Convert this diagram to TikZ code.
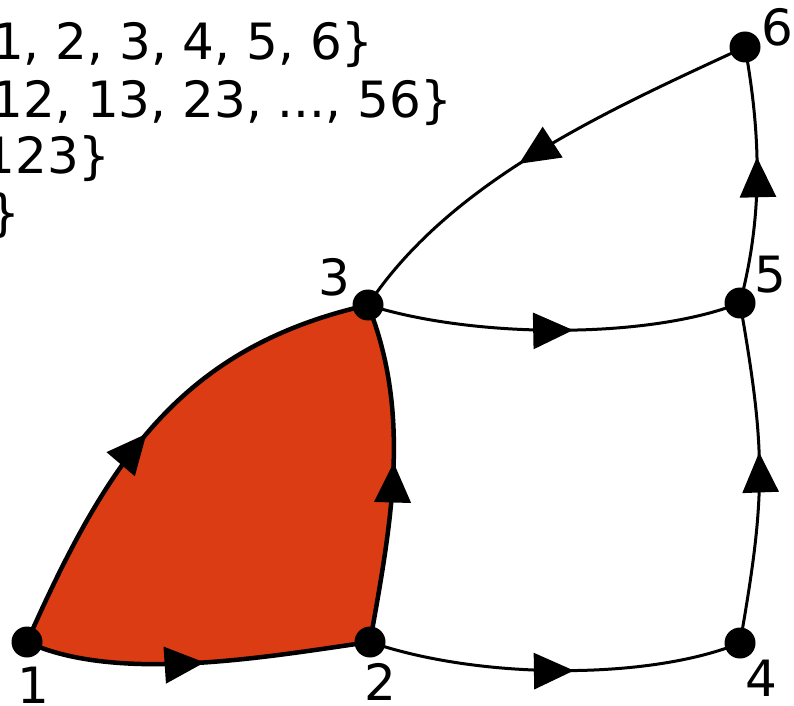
\documentclass[tikz,border=0pt]{standalone}
\usepackage{fontspec}
\setmainfont{DejaVu Sans}
\usetikzlibrary{arrows.meta,decorations.markings}
\definecolor{facered}{RGB}{220,60,20}
\tikzset{
  vertex/.style={circle,fill=black,inner sep=0pt,minimum size=31pt},
  lbl/.style={inner sep=0pt,font=\fontsize{50}{58}\selectfont},
  settext/.style={inner sep=0pt,anchor=base east,font=\fontsize{50}{58}\selectfont},
  edge/.style={line width=3pt},
  bedge/.style={line width=4.5pt},
  midarrow/.style={postaction={decorate},decoration={markings,
    mark=at position #1 with {\arrow{Triangle[length=40pt,width=36pt]}}}}
}
\begin{document}
\begin{tikzpicture}[x=1pt,y=1pt]
\useasboundingbox (0,0) rectangle (794,705);
\begin{scope}
\clip (0,0) rectangle (794,705);
\node[settext] (t1) at (374,645) {1, 2, 3, 4, 5, 6\}};
\node[settext] (t2) at (453,587) {12, 13, 23, ..., 56\}};
\node[settext] (t3) at (111,531) {123\}};
\node[settext] (t4) at (21,474) {\}};
\end{scope}
% vertices
\coordinate (p1) at (27,63);
\coordinate (p2) at (370,63);
\coordinate (p3) at (368,400);
\coordinate (p4) at (740,62);
\coordinate (p5) at (740,402);
\coordinate (p6) at (745,658);
% red face
\fill[facered] (p1) .. controls (118,21) and (271,49) .. (p2)
  .. controls (391,181) and (412,290) .. (p3)
  .. controls (182,358) and (108,246) .. (p1) -- cycle;
% edges
\draw[bedge,midarrow=0.52] (p1) .. controls (118,21) and (271,49) .. (p2);
\draw[bedge,midarrow=0.53] (p2) .. controls (391,181) and (412,290) .. (p3);
\draw[bedge,midarrow=0.48] (p1) .. controls (108,246) and (182,358) .. (p3);
\draw[edge,midarrow=0.55] (p2) .. controls (480,25) and (650,25) .. (p4);
\draw[edge,midarrow=0.55] (p3) .. controls (475,366) and (650,366) .. (p5);
\draw[edge,midarrow=0.56] (p4) .. controls (766,210) and (766,254) .. (p5);
\draw[edge,midarrow=0.57] (p5) .. controls (763,489) and (761,569) .. (p6);
\draw[edge,midarrow=0.55] (p6) .. controls (609,595) and (451,525) .. (p3);
% dots
\node[vertex] (v1) at (p1) {};
\node[vertex] (v2) at (p2) {};
\node[vertex] (v3) at (p3) {};
\node[vertex] (v4) at (p4) {};
\node[vertex] (v5) at (p5) {};
\node[vertex] (v6) at (p6) {};
% labels
\node[lbl] (l1) at (33,20) {1};
\node[lbl] (l2) at (380,23) {2};
\node[lbl] (l3) at (334,428) {3};
\node[lbl] (l4) at (761,27) {4};
\node[lbl] (l5) at (770,430) {5};
\node[lbl] (l6) at (777,678) {6};
\end{tikzpicture}
\end{document}
